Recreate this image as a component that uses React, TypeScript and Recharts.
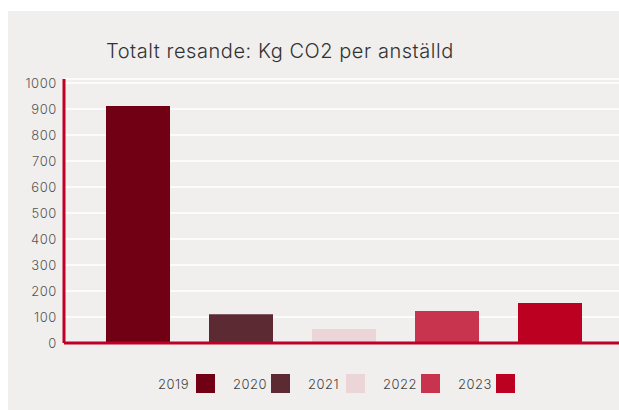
import React from "react";
import { Bar, BarChart, CartesianGrid, XAxis, YAxis } from "recharts";

const years = ["2019", "2020", "2021", "2022", "2023"];
const values = [911, 111, 54, 123, 154];
const colors = ["#720015", "#5c2a33", "#ebd5d7", "#c8344d", "#bc0022"];
const yTicks = [0, 100, 200, 300, 400, 500, 600, 700, 800, 900, 1000];

const row: Record<string, string | number> = { name: "Totalt resande" };
years.forEach((y, i) => {
    row["y" + y] = values[i];
});
const data = [row];

const font = "Inter, 'Open Sans', sans-serif";
const axisRed = "#bf0026";

function App() {
    return (
        <div
            style={{
                position: "absolute",
                left: 8,
                top: 11,
                width: 611,
                height: 399,
                background: "#f0efed",
                fontFamily: font,
            }}>
            <div
                style={{
                    position: "absolute",
                    left: 98,
                    top: 28,
                    fontSize: 20,
                    fontWeight: 300,
                    letterSpacing: 0.55,
                    color: "#333",
                    whiteSpace: "nowrap",
                }}>
                Totalt resande: Kg CO2 per anställd
            </div>
            <BarChart
                width={611}
                height={399}
                data={data}
                barSize={64}
                barGap={39}
                margin={{ top: 68, right: 0, bottom: 0, left: 0 }}>
                <CartesianGrid
                    vertical={false}
                    stroke="#fbfbfa"
                    strokeWidth={2}
                />
                <XAxis
                    dataKey="name"
                    tick={false}
                    tickLine={false}
                    height={67}
                    padding={{ left: 4, right: 0 }}
                    axisLine={{ stroke: axisRed, strokeWidth: 3 }}
                />
                <YAxis
                    width={56}
                    domain={[0, 1015]}
                    ticks={yTicks}
                    tickLine={false}
                    tickSize={0}
                    tickMargin={7}
                    interval={0}
                    axisLine={{ stroke: axisRed, strokeWidth: 3 }}
                    tick={{
                        fill: "#555",
                        fontSize: 13,
                        fontFamily: font,
                        fontWeight: 300,
                        letterSpacing: 0.6,
                    }}
                />
                {years.map((y, i) => (
                    <Bar
                        key={y}
                        dataKey={"y" + y}
                        name={y}
                        fill={colors[i]}
                        isAnimationActive={false}
                    />
                ))}
            </BarChart>
            <div
                style={{
                    position: "absolute",
                    left: 150,
                    top: 363,
                    display: "flex",
                    alignItems: "center",
                }}>
                {years.map((y, i) => (
                    <div
                        key={y}
                        style={{
                            display: "flex",
                            alignItems: "center",
                            width: 75,
                        }}>
                        <span
                            style={{
                                fontSize: 13,
                                fontWeight: 300,
                                letterSpacing: 0.5,
                                color: "#444",
                                width: 38,
                            }}>
                            {y}
                        </span>
                        <span
                            style={{
                                display: "inline-block",
                                width: 19,
                                height: 19,
                                background: colors[i],
                            }}
                        />
                    </div>
                ))}
            </div>
        </div>
    );
}

export default App;
